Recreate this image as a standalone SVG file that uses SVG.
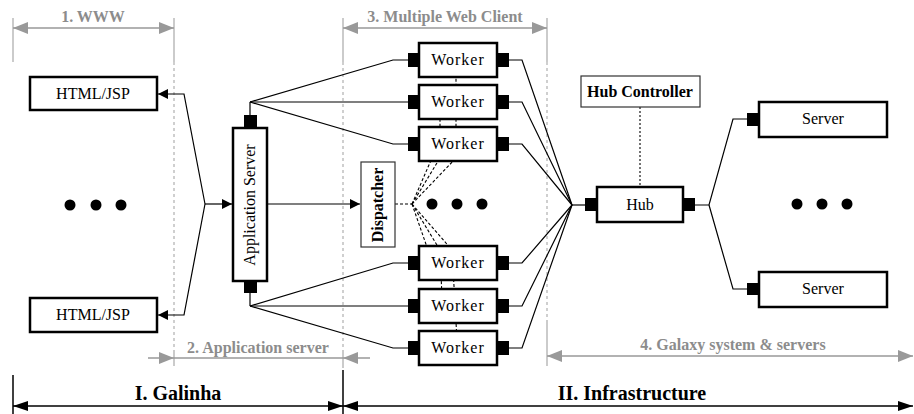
<svg xmlns="http://www.w3.org/2000/svg" width="914" height="414" viewBox="0 0 914 414">
  <style>
    .lbl { font-family: "Liberation Serif", "DejaVu Serif", serif; font-size: 16px; fill: #000; text-anchor: middle; }
    .bold { font-weight: bold; }
    .dim { font-family: "Liberation Serif", "DejaVu Serif", serif; font-size: 16px; font-weight: bold; fill: #8c8c8c; text-anchor: middle; }
    .part { font-family: "Liberation Serif", "DejaVu Serif", serif; font-size: 20px; font-weight: bold; fill: #000; text-anchor: middle; }
    .box { fill: #fff; stroke: #000; stroke-width: 2.5; }
    .thin { fill: #fff; stroke: #333; stroke-width: 1.2; }
    .port { fill: #000; stroke: none; }
    .wire { fill: none; stroke: #000; stroke-width: 1.2; }
    .dash { fill: none; stroke: #000; stroke-width: 1.1; stroke-dasharray: 3 2; }
    .guide { fill: none; stroke: #a8a8a8; stroke-width: 1.2; }
    .guide-dash { fill: none; stroke: #b0b0b0; stroke-width: 1.2; stroke-dasharray: 3 3; }
    .gray-arrow { fill: none; stroke: #999; stroke-width: 1.5; }
    .black-arrow { fill: none; stroke: #000; stroke-width: 1.5; }
    .dot { fill: #000; }
  </style>
  <defs>
    <marker id="gray-head" markerUnits="userSpaceOnUse" markerWidth="16" markerHeight="12" refX="15" refY="6" orient="auto-start-reverse">
      <path d="M0,0 L15,6 L0,12 z" fill="#999"/>
    </marker>
    <marker id="black-head" markerUnits="userSpaceOnUse" markerWidth="16" markerHeight="10" refX="15" refY="5" orient="auto-start-reverse">
      <path d="M0,0 L15,5 L0,10 z" fill="#000"/>
    </marker>
    <marker id="tip" markerUnits="userSpaceOnUse" markerWidth="11" markerHeight="10" refX="10" refY="5" orient="auto">
      <path d="M0,0 L10,5 L0,10 z" fill="#000"/>
    </marker>
  </defs>

  <!-- layer guides and dimension arrows -->
  <g id="guides">
    <line class="guide" x1="13" y1="18" x2="13" y2="62"/>
    <line class="guide" x1="174" y1="18" x2="174" y2="62"/>
    <line class="guide-dash" x1="174" y1="62" x2="174" y2="350"/>
    <line class="guide" x1="174" y1="350" x2="174" y2="366"/>
    <line class="guide" x1="343" y1="18" x2="343" y2="62"/>
    <line class="guide-dash" x1="343" y1="62" x2="343" y2="350"/>
    <line class="guide" x1="343" y1="350" x2="343" y2="368"/>
    <line class="guide" x1="547" y1="18" x2="547" y2="62"/>
    <line class="guide-dash" x1="547" y1="62" x2="547" y2="320"/>
    <line class="guide" x1="547" y1="320" x2="547" y2="366"/>

    <line class="gray-arrow" x1="13" y1="28" x2="174" y2="28" marker-start="url(#gray-head)" marker-end="url(#gray-head)"/>
    <text class="dim" x="93" y="22">1. WWW</text>

    <line class="gray-arrow" x1="343" y1="28" x2="547" y2="28" marker-start="url(#gray-head)" marker-end="url(#gray-head)"/>
    <text class="dim" x="445" y="22">3. Multiple Web Client</text>

    <line class="gray-arrow" x1="174" y1="358" x2="343" y2="358"/>
    <line class="gray-arrow" x1="148" y1="358" x2="174" y2="358" marker-end="url(#gray-head)"/>
    <line class="gray-arrow" x1="370" y1="358" x2="343" y2="358" marker-end="url(#gray-head)"/>
    <text class="dim" x="258" y="353">2. Application server</text>

    <line class="gray-arrow" x1="547" y1="356" x2="913" y2="356" marker-start="url(#gray-head)" marker-end="url(#gray-head)"/>
    <text class="dim" x="733" y="350">4. Galaxy system &amp; servers</text>

    <line class="black-arrow" x1="13" y1="375" x2="13" y2="414"/>
    <line class="black-arrow" x1="343" y1="370" x2="343" y2="414"/>
    <line class="black-arrow" x1="13" y1="406" x2="343" y2="406" marker-start="url(#black-head)" marker-end="url(#black-head)"/>
    <text class="part" x="178" y="400">I. Galinha</text>
    <line class="black-arrow" x1="343" y1="406" x2="913" y2="406" marker-start="url(#black-head)" marker-end="url(#black-head)"/>
    <text class="part" x="632" y="400">II. Infrastructure</text>
  </g>

  <!-- connectors -->
  <g id="connectors">
    <!-- dispatcher fan-out (dashed, passes behind the workers) -->
    <polyline class="dash" points="395,204 412,204"/>
    <polyline class="dash" points="412,204 432,158"/>
    <polyline class="dash" points="412,204 440,158 440,110"/>
    <polyline class="dash" points="412,204 456,158 456,68"/>
    <polyline class="dash" points="412,204 428,250"/>
    <polyline class="dash" points="412,204 440,250 442,298"/>
    <polyline class="dash" points="412,204 452,250 457,340"/>

    <!-- browser pages to the application server -->
    <polyline class="wire" points="205,204 184,94 158,94" marker-end="url(#tip)"/>
    <polyline class="wire" points="205,204 184,315 158,315" marker-end="url(#tip)"/>
    <polyline class="wire" points="205,204 232,204" marker-end="url(#tip)"/>
    <polyline class="wire" points="267,204 360,204" marker-end="url(#tip)"/>

    <!-- application server to workers -->
    <polyline class="wire" points="250,115 250,102"/>
    <polyline class="wire" points="250,102 393,60 408,60"/>
    <polyline class="wire" points="250,102 408,102"/>
    <polyline class="wire" points="250,102 393,144 408,144"/>
    <polyline class="wire" points="250,293 250,306"/>
    <polyline class="wire" points="250,306 393,263 408,263"/>
    <polyline class="wire" points="250,306 408,306"/>
    <polyline class="wire" points="250,306 393,348 408,348"/>

    <!-- workers to hub -->
    <polyline class="wire" points="509,60 522,60 572,205"/>
    <polyline class="wire" points="509,102 522,102 572,205"/>
    <polyline class="wire" points="509,144 522,144 572,205"/>
    <polyline class="wire" points="509,263 522,263 572,205"/>
    <polyline class="wire" points="509,306 522,306 572,205"/>
    <polyline class="wire" points="509,348 522,348 572,205"/>
    <polyline class="wire" points="572,205 585,205"/>

    <!-- hub to servers -->
    <polyline class="wire" points="695,205 709,205 733,119 747,119"/>
    <polyline class="wire" points="709,205 733,289 747,289"/>

    <!-- hub controller link -->
    <line x1="640" y1="107" x2="640" y2="187" stroke="#000" stroke-width="1.1" stroke-dasharray="2 2"/>
  </g>

  <!-- nodes -->
  <g id="html-top">
    <rect class="box" x="30" y="77" width="127" height="33"/>
    <text class="lbl" x="93" y="99">HTML/JSP</text>
  </g>
  <g id="html-dots">
    <circle class="dot" cx="70" cy="205" r="5.5"/>
    <circle class="dot" cx="96" cy="205" r="5.5"/>
    <circle class="dot" cx="121" cy="205" r="5.5"/>
  </g>
  <g id="html-bottom">
    <rect class="box" x="30" y="298" width="127" height="34"/>
    <text class="lbl" x="93" y="320">HTML/JSP</text>
  </g>

  <g id="app-server">
    <rect class="port" x="244" y="115" width="13" height="13"/>
    <rect class="port" x="244" y="281" width="13" height="12"/>
    <rect class="box" x="233" y="128" width="34" height="153"/>
    <text class="lbl" x="250" y="205" transform="rotate(-90 250 205)" dy="5">Application Server</text>
  </g>

  <g id="dispatcher">
    <rect class="thin" x="361" y="162" width="34" height="85"/>
    <text class="lbl bold" x="378" y="205" font-size="15" transform="rotate(-90 378 205)" dy="5">Dispatcher</text>
  </g>

  <g id="worker-1">
    <rect class="port" x="408" y="53" width="12" height="14"/>
    <rect class="port" x="496" y="53" width="13" height="14"/>
    <rect class="box" x="419" y="43" width="78" height="34"/>
    <text class="lbl" x="458" y="65" letter-spacing="1">Worker</text>
  </g>
  <g id="worker-2">
    <rect class="port" x="408" y="95" width="12" height="14"/>
    <rect class="port" x="496" y="95" width="13" height="14"/>
    <rect class="box" x="419" y="85" width="78" height="34"/>
    <text class="lbl" x="458" y="107" letter-spacing="1">Worker</text>
  </g>
  <g id="worker-3">
    <rect class="port" x="408" y="137" width="12" height="14"/>
    <rect class="port" x="496" y="137" width="13" height="14"/>
    <rect class="box" x="419" y="127" width="78" height="34"/>
    <text class="lbl" x="458" y="149" letter-spacing="1">Worker</text>
  </g>
  <g id="worker-dots">
    <circle class="dot" cx="432" cy="204" r="5.5"/>
    <circle class="dot" cx="457" cy="204" r="5.5"/>
    <circle class="dot" cx="482" cy="204" r="5.5"/>
  </g>
  <g id="worker-4">
    <rect class="port" x="408" y="256" width="12" height="14"/>
    <rect class="port" x="496" y="256" width="13" height="14"/>
    <rect class="box" x="419" y="246" width="78" height="34"/>
    <text class="lbl" x="458" y="268" letter-spacing="1">Worker</text>
  </g>
  <g id="worker-5">
    <rect class="port" x="408" y="299" width="12" height="14"/>
    <rect class="port" x="496" y="299" width="13" height="14"/>
    <rect class="box" x="419" y="289" width="78" height="34"/>
    <text class="lbl" x="458" y="311" letter-spacing="1">Worker</text>
  </g>
  <g id="worker-6">
    <rect class="port" x="408" y="341" width="12" height="14"/>
    <rect class="port" x="496" y="341" width="13" height="14"/>
    <rect class="box" x="419" y="331" width="78" height="34"/>
    <text class="lbl" x="458" y="353" letter-spacing="1">Worker</text>
  </g>

  <g id="hub-controller">
    <rect class="thin" x="581" y="76" width="119" height="31"/>
    <text class="lbl bold" x="640" y="97" font-size="14.5">Hub Controller</text>
  </g>

  <g id="hub">
    <rect class="port" x="585" y="198" width="13" height="13"/>
    <rect class="port" x="682" y="198" width="13" height="13"/>
    <rect class="box" x="597" y="187" width="86" height="35"/>
    <text class="lbl" x="640" y="210">Hub</text>
  </g>

  <g id="server-top">
    <rect class="port" x="747" y="113" width="13" height="13"/>
    <rect class="box" x="759" y="102" width="128" height="35"/>
    <text class="lbl" x="823" y="124">Server</text>
  </g>
  <g id="server-dots">
    <circle class="dot" cx="797" cy="204" r="5.5"/>
    <circle class="dot" cx="822" cy="204" r="5.5"/>
    <circle class="dot" cx="847" cy="204" r="5.5"/>
  </g>
  <g id="server-bottom">
    <rect class="port" x="747" y="283" width="13" height="12"/>
    <rect class="box" x="759" y="272" width="128" height="35"/>
    <text class="lbl" x="823" y="294">Server</text>
  </g>
</svg>
